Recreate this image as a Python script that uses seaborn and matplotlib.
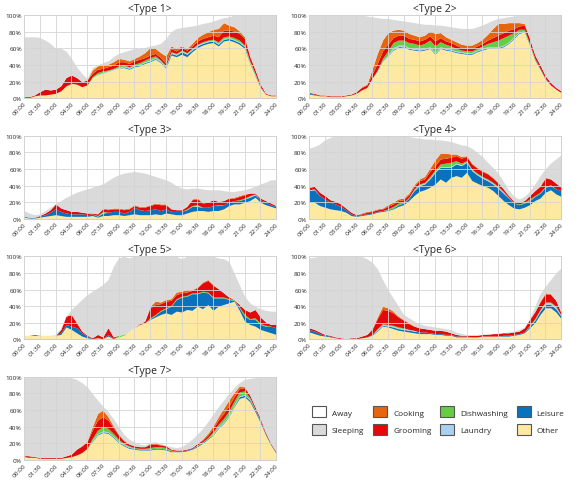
import numpy as np
import pandas as pd
import matplotlib
matplotlib.use("Agg")
import matplotlib.pyplot as plt
import seaborn as sns
from matplotlib.patches import Patch

# half-hour steps from 00:00 to 24:00 (49 points)
hours = np.arange(49) * 0.5
tick_labels = ["00:00", "01:30", "03:00", "04:30", "06:00", "07:30", "09:00", "10:30", "12:00",
               "13:30", "15:00", "16:30", "18:00", "19:30", "21:00", "22:30", "24:00"]

activities = ["Other", "Leisure", "Laundry", "Dishwashing", "Grooming", "Cooking", "Sleeping"]
colors = {"Other": "#fde9a2", "Leisure": "#0a72bd", "Laundry": "#a9d1ef", "Dishwashing": "#66cc44",
          "Grooming": "#e00a0a", "Cooking": "#e8650f", "Sleeping": "#dadada", "Away": "#ffffff"}

# shares in % (sleeping = what is left once away and the activities are taken out)
t1_other = [1,1,3,4,4,5,6,9,15,18, 17,14,16,25,28,30,32,34,36,37, 35,38,39,42,44,47,43,36,52,50, 53,50,56,61,64,66,67,63,69,70, 68,65,60,42,27,13,5,3,3]
t1_leisure = [0,0,0,0,0,0,0,0,0,0, 0,0,0,0,0,0,0,0,0,1, 1,1,1,1,1,1,1,1,2,2, 3,3,2,2,2,2,2,2,2,2, 2,2,2,1,1,1,0,0,0]
t1_laundry = [0,0,0,0,0,0,0,0,0,0, 0,0,0,0,1,1,1,1,1,1, 1,1,1,1,1,1,1,1,1,1, 1,1,1,1,1,1,1,1,1,1, 1,1,1,1,1,0,0,0,0]
t1_dish = [0,0,0,0,0,0,0,0,0,0, 0,0,0,1,2,2,1,1,2,1, 1,1,2,2,3,2,1,1,1,1, 1,1,1,1,1,1,1,2,2,2, 2,2,1,1,1,0,0,0,0]
t1_groom = [1,1,1,4,7,5,5,6,10,10, 8,6,6,4,4,3,4,4,5,4, 4,4,4,3,3,3,3,3,4,3, 3,3,3,4,4,4,5,6,8,7, 8,8,8,5,4,3,1,1,1]
t1_cook = [0,0,0,0,0,0,0,0,0,0, 0,0,0,4,4,4,3,4,4,3, 3,3,4,6,9,6,6,9,3,3, 2,2,3,4,5,6,7,10,9,6, 5,3,2,1,1,0,0,0,0]
t1_away = [26,26,26,27,30,34,40,40,43,52, 62,70,76,63,60,57,55,50,46,44, 42,40,40,39,37,36,34,28,20,16, 15,14,13,12,10,9,7,5,3,2, 0,0,0,0,0,0,0,0,0]

t2_other = [5,4,3,3,2,2,2,3,4,6, 10,13,24,32,44,50,58,61,62,59, 58,57,58,60,53,60,58,57,55,54, 53,53,56,58,60,60,60,62,66,72, 78,80,64,46,35,23,16,11,7]
t2_leisure = [1,1,0,0,0,0,0,0,0,0, 0,0,0,0,0,0,1,1,1,1, 1,1,1,1,1,1,1,1,1,1, 1,1,1,1,1,1,1,1,1,1, 1,1,1,1,1,1,0,0,0]
t2_laundry = [0,0,0,0,0,0,0,0,0,0, 0,0,0,1,1,2,2,2,1,1, 1,1,1,1,1,1,1,1,1,1, 1,1,1,1,1,1,1,1,1,1, 1,0,0,0,0,0,0,0,0]
t2_dish = [0,0,0,0,0,0,0,0,0,0, 0,0,0,1,3,5,6,6,6,6, 6,5,6,8,8,6,5,4,3,2, 2,2,2,3,4,6,8,9,8,5, 3,2,1,1,0,0,0,0,0]
t2_groom = [1,1,1,1,1,1,1,1,1,2, 3,3,5,8,9,8,6,6,6,5, 5,5,5,5,6,5,4,4,4,3, 3,3,3,3,4,5,6,6,6,5, 4,5,6,4,4,3,3,2,2]
t2_cook = [0,0,0,0,0,0,0,0,0,0, 1,1,6,12,13,14,9,7,6,6, 5,5,5,6,9,6,5,4,4,4, 4,4,4,5,7,11,14,11,9,7, 4,2,0,0,0,0,0,0,0]
t2_away = [0,0,0,0,0,0,0,0,0,0, 0,1,2,3,4,4,5,6,7,8, 9,10,11,11,12,12,13,14,15,16, 16,16,14,12,9,6,4,3,2,1, 0,0,0,0,0,0,0,0,0]

t3_other = [2,1,1,2,3,4,5,4,3,3, 3,3,3,4,2,4,4,5,5,4, 5,6,5,5,5,6,5,7,6,5, 5,7,9,10,10,9,10,10,12,16, 18,18,20,22,26,20,17,15,13]
t3_leisure = [1,1,1,1,2,4,7,5,4,3, 3,3,2,2,1,3,4,4,4,3, 4,8,6,5,6,6,5,5,3,4, 4,4,6,5,4,5,6,6,5,4, 4,4,4,4,3,3,3,2,2]
t3_laundry = [0,0,0,0,0,0,0,0,0,0, 0,0,0,0,0,1,0,0,0,0, 0,0,0,0,0,0,0,0,0,0, 0,0,0,1,0,0,0,0,0,0, 0,0,0,1,1,0,0,0,0]
t3_dish = [0,0,0,0,0,0,0,0,0,0, 0,0,0,0,1,1,0,0,0,0, 0,0,0,0,0,0,0,0,0,0, 0,1,1,1,0,0,0,1,0,0, 0,1,1,1,0,0,0,0,0]
t3_groom = [0,0,0,1,2,3,6,4,4,3, 3,2,2,1,2,3,3,3,3,4, 3,2,3,4,5,6,7,5,3,2, 2,3,7,7,5,6,7,4,5,5, 3,4,4,3,1,2,2,2,1]
t3_cook = [0,0,0,0,0,0,0,0,0,0, 0,0,0,0,0,1,1,1,1,1, 1,1,1,1,1,1,1,1,0,0, 0,0,1,1,1,0,0,0,0,0, 1,1,1,0,0,0,0,0,0]
t3_away = [90,93,95,94,90,86,82,78,74,71, 68,66,64,62,60,58,54,50,47,45, 44,43,44,45,47,49,51,53,56,60, 63,64,63,63,64,65,65,65,66,67, 67,66,65,63,61,58,56,53,53]

t4_other = [20,20,16,14,12,11,10,8,4,3, 4,5,6,8,9,10,12,15,17,22, 28,33,35,38,42,48,44,50,52,50, 56,46,43,40,38,34,28,22,17,13, 12,14,17,22,25,32,35,30,27]
t4_leisure = [14,15,12,10,8,7,5,3,2,1, 1,1,1,1,1,1,1,2,2,3, 6,7,7,10,14,14,18,12,14,14, 12,12,10,9,8,8,9,9,8,6, 5,5,5,5,6,6,5,6,7]
t4_laundry = [1,1,0,0,0,0,0,0,0,0, 0,0,0,0,0,0,0,0,0,0, 1,1,1,1,1,1,1,1,1,1, 1,1,1,1,1,1,1,1,0,0, 0,0,0,0,0,0,0,0,0]
t4_dish = [0,0,0,0,0,0,0,0,0,0, 0,0,0,0,0,1,2,2,1,1, 1,1,1,2,2,3,4,5,3,2, 1,1,1,1,1,1,1,1,1,0, 1,1,2,1,1,1,1,0,0]
t4_groom = [3,3,4,4,3,3,3,2,2,1, 1,2,2,2,2,3,3,3,3,3, 3,4,4,6,5,6,6,6,6,6, 5,6,6,6,6,5,4,3,2,2, 2,2,4,6,7,10,7,7,4]
t4_cook = [0,0,0,0,0,0,0,0,0,0, 1,1,1,1,1,2,2,2,2,2, 2,2,3,4,7,7,6,4,2,2, 1,1,1,1,1,1,1,0,0,0, 0,0,0,0,1,1,0,0,0]
t4_away = [15,13,10,5,2,0,0,0,0,0, 0,0,0,0,0,0,0,0,0,1, 2,3,4,4,5,5,6,7,9,11, 12,15,20,25,32,38,45,55,65,73, 76,73,67,58,48,40,33,28,23]

t5_other = [5,5,5,5,5,5,5,6,15,12, 8,4,2,1,2,1,4,1,3,5, 10,14,18,20,24,27,30,32,30,34, 33,36,35,40,37,42,35,40,42,44, 46,35,22,18,16,12,10,8,6]
t5_leisure = [0,0,0,0,0,0,0,2,3,4, 6,4,2,0,0,0,2,0,0,0, 0,0,0,0,1,2,4,5,10,14, 18,16,20,15,20,14,15,10,8,4, 1,3,6,6,8,6,6,8,8]
t5_laundry = [0,0,0,0,0,0,0,0,0,0, 0,0,0,0,0,0,0,0,0,0, 0,0,0,0,0,0,0,0,0,0, 0,0,0,0,0,0,0,0,0,0, 0,0,0,0,0,0,0,0,0]
t5_dish = [0,0,0,0,0,0,0,0,0,0, 0,0,0,0,0,0,0,0,2,1, 0,0,0,0,1,1,1,1,1,1, 1,1,1,1,1,1,1,1,1,1, 1,1,2,1,2,1,1,0,0]
t5_groom = [0,0,1,0,0,0,0,4,10,14, 6,2,1,1,4,2,8,2,0,0, 0,0,1,2,12,12,8,8,6,5, 4,4,3,6,10,14,14,10,5,2, 0,3,6,8,10,8,4,2,4]
t5_cook = [0,0,0,0,0,0,0,0,0,0, 0,0,0,0,0,0,0,0,0,0, 0,0,0,0,2,4,2,2,2,3, 2,3,1,1,1,1,1,0,0,0, 0,0,0,0,0,0,0,0,0]
t5_away = [95,95,94,95,95,95,94,86,72,64, 58,52,46,42,38,34,28,12,2,0, 2,0,0,0,0,0,0,0,0,0, 3,0,0,0,0,0,0,2,3,6, 20,34,48,56,60,63,65,66,66]

t6_other = [9,7,5,4,3,2,1,1,1,1, 2,3,5,10,16,15,13,11,10,9, 8,7,7,7,6,6,5,5,3,3, 3,3,3,4,4,4,4,4,4,5, 6,8,14,20,30,38,38,33,25]
t6_leisure = [3,3,2,1,1,0,0,0,0,0, 0,0,1,1,1,1,2,2,2,2, 2,2,2,1,1,1,1,1,1,1, 1,0,0,0,0,0,0,1,1,1, 1,1,2,3,4,4,4,4,3]
t6_laundry = [0,0,0,0,0,0,0,0,0,0, 0,0,0,1,1,1,1,1,1,1, 1,0,0,0,0,0,0,0,0,0, 0,0,0,0,0,0,0,0,0,0, 0,0,0,1,1,2,2,2,1]
t6_dish = [0,0,0,0,0,0,0,0,0,0, 0,0,0,1,1,1,1,1,1,0, 0,0,0,0,0,0,0,0,0,0, 0,0,0,0,0,0,0,0,0,0, 0,0,1,1,1,1,1,1,0]
t6_groom = [2,2,2,1,1,1,1,0,1,1, 2,3,6,12,17,17,15,12,9,7, 5,5,4,4,4,4,4,2,2,1, 1,2,2,2,2,3,3,3,3,3, 3,5,7,8,9,10,9,7,3]
t6_cook = [0,0,0,0,0,0,0,0,0,0, 0,0,1,2,4,3,2,1,1,1, 0,0,0,0,0,0,0,0,0,0, 0,0,0,0,0,0,0,0,0,0, 0,0,0,1,1,1,1,0,0]
t6_away = [2,1,0,0,0,0,0,0,0,0, 0,3,7,15,28,40,50,60,70,74, 78,81,83,84,85,86,87,88,91,93, 94,94,94,94,93,93,92,92,91,90, 88,85,75,60,45,36,28,20,14]

t7_other = [4,3,3,2,2,2,2,2,3,4, 6,9,14,22,30,33,32,27,21,17, 14,13,12,12,12,13,13,12,10,10, 10,11,13,16,20,25,30,38,44,52, 64,74,76,70,58,45,30,18,8]
t7_leisure = [1,1,0,0,0,0,0,0,0,0, 0,0,0,1,1,1,1,1,1,1, 1,1,1,1,1,1,1,1,1,1, 1,1,1,1,1,1,1,1,1,1, 1,2,2,2,2,2,1,1,1]
t7_laundry = [0,0,0,0,0,0,0,0,0,0, 0,0,0,1,1,1,1,1,1,1, 1,0,0,0,0,0,0,0,0,0, 0,0,0,0,0,0,1,1,1,1, 1,1,1,1,0,0,0,0,0]
t7_dish = [0,0,0,0,0,0,0,0,0,0, 0,0,0,2,4,5,4,3,2,1, 1,1,1,1,2,2,2,2,1,0, 0,0,0,1,1,1,2,3,4,5, 5,5,4,2,1,1,0,0,0]
t7_groom = [1,1,1,1,1,1,1,1,2,3, 7,8,8,10,12,12,10,7,5,3, 2,2,2,2,4,3,2,2,1,1, 1,1,1,2,2,3,4,5,6,6, 5,4,4,3,3,2,2,1,1]
t7_cook = [0,0,0,0,0,0,0,0,0,0, 0,0,1,4,8,8,4,2,1,1, 0,0,0,0,1,1,1,0,0,0, 0,0,0,0,1,2,3,4,6,7, 5,3,1,0,0,0,0,0,0]
t7_away = [0,0,0,0,0,0,0,0,0,1, 3,7,12,20,28,35,42,50,60,69, 75,78,81,82,79,78,80,82,84,85, 84,80,75,69,62,54,45,36,28,20, 13,7,3,2,1,0,0,0,0]

types = {
    "<Type 1>": (t1_other, t1_leisure, t1_laundry, t1_dish, t1_groom, t1_cook, t1_away),
    "<Type 2>": (t2_other, t2_leisure, t2_laundry, t2_dish, t2_groom, t2_cook, t2_away),
    "<Type 3>": (t3_other, t3_leisure, t3_laundry, t3_dish, t3_groom, t3_cook, t3_away),
    "<Type 4>": (t4_other, t4_leisure, t4_laundry, t4_dish, t4_groom, t4_cook, t4_away),
    "<Type 5>": (t5_other, t5_leisure, t5_laundry, t5_dish, t5_groom, t5_cook, t5_away),
    "<Type 6>": (t6_other, t6_leisure, t6_laundry, t6_dish, t6_groom, t6_cook, t6_away),
    "<Type 7>": (t7_other, t7_leisure, t7_laundry, t7_dish, t7_groom, t7_cook, t7_away),
}

sns.set_style("whitegrid")
plt.rcParams["font.family"] = ["Open Sans", "DejaVu Sans"]

fig, axes = plt.subplots(4, 2, figsize=(5.79, 4.89), dpi=100)
fig.subplots_adjust(left=0.0415, right=0.969, bottom=0.0573, top=0.967, wspace=0.131, hspace=0.45)

for ax, (title, series) in zip(axes.flat, types.items()):
    df = pd.DataFrame(dict(zip(["Other", "Leisure", "Laundry", "Dishwashing", "Grooming", "Cooking", "Away"], series)),
                      index=hours)
    df["Sleeping"] = (100 - df.sum(axis=1)).clip(lower=0)
    ax.stackplot(df.index, [df[a] for a in activities],
                 colors=[colors[a] for a in activities], linewidth=0)
    ax.set_xlim(0, 24)
    ax.set_ylim(0, 100)
    ax.set_xticks(np.arange(0, 24.1, 1.5))
    ax.set_xticklabels(tick_labels, rotation=45, ha="right", rotation_mode="anchor", fontsize=4.6)
    ax.set_yticks(range(0, 101, 20))
    ax.set_yticklabels([f"{v}%" for v in range(0, 101, 20)], fontsize=4.6)
    ax.tick_params(axis="both", length=0, pad=1.5)
    ax.grid(True, color="#d4d4d4", linewidth=0.6)
    ax.set_axisbelow(False)
    for sp in ax.spines.values():
        sp.set_color("#c8c8c8")
        sp.set_linewidth(0.6)
    ax.set_title(title, fontsize=7.5, pad=3)

axes[3, 1].axis("off")

legend_order = ["Away", "Sleeping", "Cooking", "Grooming", "Dishwashing", "Laundry", "Leisure", "Other"]
handles = [Patch(facecolor=colors[a], edgecolor="#555555", linewidth=0.8, label=a) for a in legend_order]
fig.legend(handles=handles, loc="center", bbox_to_anchor=(0.757, 0.138), ncol=4, frameon=False,
           fontsize=5.9, handlelength=1.7, handleheight=1.7, columnspacing=1.1, handletextpad=0.7,
           labelspacing=0.75)

fig.savefig("out.png", dpi=100)
